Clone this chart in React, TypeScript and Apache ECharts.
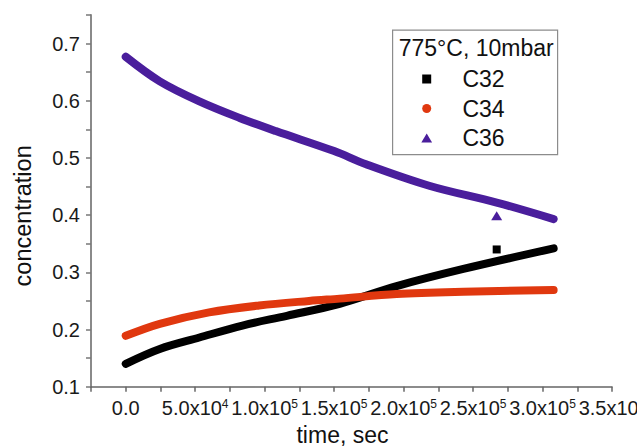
import React, { useEffect, useRef } from "react";
import * as echarts from "echarts";

// ---- data ----
const timeC32 = [0, 24500, 53000, 84000, 116000, 154000, 195000, 243000, 308000];
const valC32 = [0.14, 0.166, 0.186, 0.207, 0.224, 0.245, 0.276, 0.306, 0.342];

const timeC34 = [0, 24500, 60000, 96000, 132000, 154000, 195000, 243000, 308000];
const valC34 = [0.189, 0.21, 0.23, 0.242, 0.25, 0.254, 0.262, 0.266, 0.269];

const timeC36 = [0, 24500, 53000, 82000, 108000, 150000, 173000, 219000, 267000, 308000];
const valC36 = [0.677, 0.634, 0.599, 0.57, 0.547, 0.512, 0.489, 0.451, 0.422, 0.393];

const outlierTime = [267000];
const outlierC32 = [0.34];
const outlierC36 = [0.399];

const seriesNames = ["C32", "C34", "C36"];
const legendTitle = "775°C, 10mbar";

const xTicks = [0, 50000, 100000, 150000, 200000, 250000, 300000, 350000];
const xTickLabels = [
  "0.0",
  "5.0x10{sup|4}",
  "1.0x10{sup|5}",
  "1.5x10{sup|5}",
  "2.0x10{sup|5}",
  "2.5x10{sup|5}",
  "3.0x10{sup|5}",
  "3.5x10{sup|5}",
];
const yTicks = [0.1, 0.2, 0.3, 0.4, 0.5, 0.6, 0.7];
const yTickLabels = ["0.1", "0.2", "0.3", "0.4", "0.5", "0.6", "0.7"];

const xName = "time, sec";
const yName = "concentration";

const FONT = "'Liberation Sans', Arial, Helvetica, sans-serif";
const colors = { C32: "#000000", C34: "#e0380f", C36: "#4a1e9c" };

const zip = (xs: number[], ys: number[]) => xs.map((x, i) => [x, ys[i]]);

export default function App() {
  const ref = useRef<HTMLDivElement>(null);

  useEffect(() => {
    if (!ref.current) return;
    const chart = echarts.init(ref.current, null, { renderer: "svg" });

    const lineSeries = (name: string, xs: number[], ys: number[], z: number) => ({
      type: "line",
      name,
      data: zip(xs, ys),
      smooth: 0.35,
      symbol: "none",
      showSymbol: false,
      z,
      color: (colors as any)[name],
      lineStyle: { width: 8, color: (colors as any)[name], cap: "round", join: "round" },
      silent: true,
    });

    const option: any = {
      animation: false,
      backgroundColor: "#ffffff",
      grid: { left: 91, right: 25, top: 15, bottom: 59.3, containLabel: false, outerBoundsMode: "none" },
      xAxis: {
        type: "value",
        min: -25000,
        max: 350000,
        interval: 25000,
        splitLine: { show: false },
        axisLine: { show: true, onZero: false, lineStyle: { color: "#666", width: 1.5 } },
        axisTick: { show: true, inside: false, length: 5, lineStyle: { color: "#666", width: 1.5 } },
        axisLabel: {
          showMinLabel: true,
          showMaxLabel: true,
          fontSize: 20,
          fontFamily: FONT,
          color: "#1a1a1a",
          margin: 11.5,
          formatter: (v: number) => {
            const i = xTicks.findIndex((t) => Math.abs(t - v) < 1);
            return i >= 0 ? xTickLabels[i] : "";
          },
          rich: {
            sup: { fontSize: 12, lineHeight: 12, verticalAlign: "top", fontFamily: FONT, color: "#1a1a1a" },
          },
        },
        name: xName,
        nameLocation: "middle",
        nameGap: 32,
        nameTextStyle: { fontSize: 23, fontFamily: FONT, color: "#111", padding: [0, 18, 0, 0] },
      },
      yAxis: {
        type: "value",
        min: 0.1,
        max: 0.75,
        interval: 0.05,
        splitLine: { show: false },
        axisLine: { show: true, onZero: false, lineStyle: { color: "#8a8a8a", width: 2 } },
        axisTick: { show: true, inside: false, length: 5, lineStyle: { color: "#777", width: 1.5 } },
        axisLabel: {
          showMinLabel: true,
          showMaxLabel: true,
          fontSize: 20,
          fontFamily: FONT,
          color: "#1a1a1a",
          margin: 11,
          formatter: (v: number) => {
            const i = yTicks.findIndex((t) => Math.abs(t - v) < 1e-6);
            return i >= 0 ? yTickLabels[i] : "";
          },
        },
        name: yName,
        nameLocation: "middle",
        nameRotate: 90,
        nameGap: 55.7,
        nameTextStyle: { fontSize: 23.5, fontFamily: FONT, color: "#111", padding: [0, 30, 0, 0] },
      },
      legend: {
        show: true,
        orient: "vertical",
        align: "left",
        left: 421.3,
        top: 67.5,
        padding: 0,
        itemWidth: 61.4,
        itemHeight: 9,
        itemGap: 6.5,
        selectedMode: false,
        symbolKeepAspect: true,
        textStyle: { fontSize: 23, fontFamily: FONT, color: "#111" },
        data: [
          { name: seriesNames[0], icon: "path://M0,0L10,0L10,10L0,10Z" },
          { name: seriesNames[1], icon: "path://M0,5A5,5 0 1,0 10,5A5,5 0 1,0 0,5Z" },
          { name: seriesNames[2], icon: "path://M6,0L12,10L0,10Z" },
        ],
      },
      graphic: [
        {
          type: "rect",
          left: 392,
          top: 29.5,
          shape: { width: 165, height: 124.5 },
          style: { fill: "rgba(0,0,0,0)", stroke: "#8c8c8c", lineWidth: 1.2 },
          z: 100,
        },
        {
          type: "text",
          x: 398.7,
          y: 48,
          style: {
            text: legendTitle,
            fontSize: 23,
            fontFamily: FONT,
            fill: "#111",
            textAlign: "left",
            textVerticalAlign: "middle",
            verticalAlign: "middle",
          },
          z: 100,
        },
      ],
      series: [
        lineSeries("C32", timeC32, valC32, 2),
        lineSeries("C34", timeC34, valC34, 3),
        lineSeries("C36", timeC36, valC36, 4),
        {
          type: "scatter",
          name: "C32",
          data: zip(outlierTime, outlierC32),
          symbol: "rect",
          symbolSize: 8,
          itemStyle: { color: colors.C32, opacity: 1 },
          z: 5,
          silent: true,
        },
        {
          type: "scatter",
          name: "C36",
          data: zip(outlierTime, outlierC36),
          symbol: "triangle",
          symbolSize: [11, 9],
          itemStyle: { color: colors.C36, opacity: 1 },
          z: 5,
          silent: true,
        },
      ],
    };

    chart.setOption(option);
    return () => chart.dispose();
  }, []);

  return <div ref={ref} style={{ width: 637, height: 446, position: "absolute", left: 0, top: 0 }} />;
}
